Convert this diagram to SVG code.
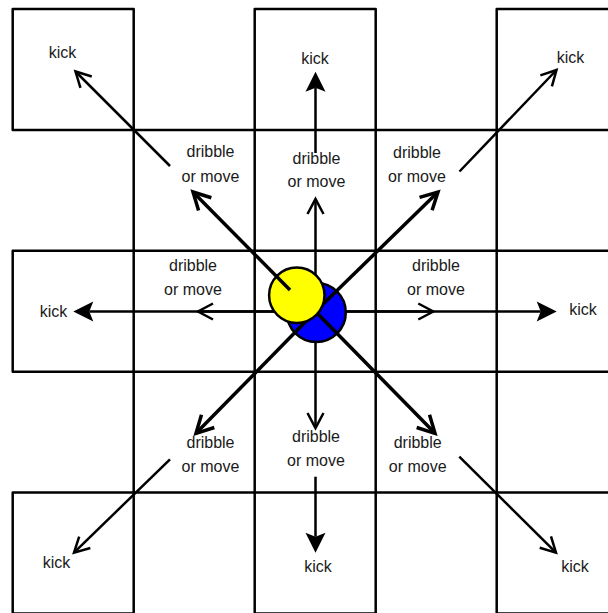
<svg xmlns="http://www.w3.org/2000/svg" width="608" height="613" viewBox="0 0 608 613">
  <style>
    .cell { fill: none; stroke: #000; stroke-width: 2.5; stroke-linejoin: round; }
    .lbl { font-family: "Liberation Sans", Arial, sans-serif; font-size: 16px; fill: #1a1a1a; text-anchor: middle; }
    .kick { fill: none; stroke: #000; stroke-width: 2.5; }
    .drib { fill: none; stroke: #000; stroke-width: 2.5; }
    .drib-diag { fill: none; stroke: #000; stroke-width: 3.5; }
    .ball { stroke: #000; stroke-width: 2.5; }
  </style>
  <defs>
    <!-- filled head: line ends at the notch, tip lies 16px beyond -->
    <marker id="head-filled" markerUnits="userSpaceOnUse" viewBox="-6 -12 24 24" markerWidth="24" markerHeight="24" refX="0" refY="0" orient="auto" overflow="visible">
      <path d="M16,0 L-4,-10 L0,0 L-4,10 Z" fill="#000"/>
    </marker>
    <!-- open chevron, tip at the line end -->
    <marker id="head-open" markerUnits="userSpaceOnUse" viewBox="-20 -12 24 24" markerWidth="24" markerHeight="24" refX="0" refY="0" orient="auto" overflow="visible">
      <path d="M-15,-8 L0,0 L-15,8" fill="none" stroke="#000" stroke-width="2.5"/>
    </marker>
    <marker id="head-open-bold" markerUnits="userSpaceOnUse" viewBox="-22 -14 26 28" markerWidth="26" markerHeight="28" refX="0" refY="0" orient="auto" overflow="visible">
      <path d="M-17,-9 L0,0 L-17,9" fill="none" stroke="#000" stroke-width="3.5"/>
    </marker>
  </defs>

  <rect width="608" height="613" fill="#fff"/>

  <!-- checkerboard field -->
  <g id="field">
    <rect class="cell" x="12.7" y="9" width="121" height="120.9"/>
    <rect class="cell" x="254.7" y="9" width="121" height="120.9"/>
    <rect class="cell" x="496.7" y="9" width="121" height="120.9"/>
    <rect class="cell" x="133.7" y="129.9" width="121" height="120.9"/>
    <rect class="cell" x="375.7" y="129.9" width="121" height="120.9"/>
    <rect class="cell" x="12.7" y="250.8" width="121" height="120.9"/>
    <rect class="cell" x="254.7" y="250.8" width="121" height="120.9"/>
    <rect class="cell" x="496.7" y="250.8" width="121" height="120.9"/>
    <rect class="cell" x="133.7" y="371.7" width="121" height="120.9"/>
    <rect class="cell" x="375.7" y="371.7" width="121" height="120.9"/>
    <rect class="cell" x="12.7" y="492.6" width="121" height="120.9"/>
    <rect class="cell" x="254.7" y="492.6" width="121" height="120.9"/>
    <rect class="cell" x="496.7" y="492.6" width="121" height="120.9"/>
  </g>

  <g id="connectors">
    <!-- straight moves leave from under the defender -->
    <g id="straight-moves">
      <!-- north -->
      <path class="drib" d="M315.5,311.5 L315.5,199" marker-end="url(#head-open)"/>
      <path class="kick" d="M315.5,153 L315.5,87.7" marker-end="url(#head-filled)"/>
      <!-- south -->
      <path class="drib" d="M315.5,311.5 L315.5,428" marker-end="url(#head-open)"/>
      <path class="kick" d="M315.5,476.7 L315.5,536.7" marker-end="url(#head-filled)"/>
      <!-- west -->
      <path class="drib" d="M315.5,311.5 L198,311.5" marker-end="url(#head-open)"/>
      <path class="kick" d="M315.5,311.5 L89.3,311.5" marker-end="url(#head-filled)"/>
      <!-- east -->
      <path class="drib" d="M315.5,311.5 L433.3,311.5" marker-end="url(#head-open)"/>
      <path class="kick" d="M315.5,311.5 L540.7,311.5" marker-end="url(#head-filled)"/>
    </g>
  </g>

  <g id="defender">
    <circle class="ball" cx="316.3" cy="312.6" r="29.5" fill="#0000ff"/>
  </g>

  <g id="diagonal-moves">
    <!-- north-west kick -->
    <path class="kick" d="M170,166 L75.5,71.5" marker-end="url(#head-open)"/>
    <!-- north-east -->
    <path class="drib-diag" d="M315.5,311.5 L438,192" marker-end="url(#head-open-bold)"/>
    <path class="kick" d="M459.5,171.5 L556.5,70" marker-end="url(#head-open)"/>
    <!-- south-west -->
    <path class="drib-diag" d="M315.5,311.5 L196,433.3" marker-end="url(#head-open-bold)"/>
    <path class="kick" d="M170,459.3 L74,552.7" marker-end="url(#head-open)"/>
    <!-- south-east -->
    <path class="drib-diag" d="M315.5,311.5 L435,433.3" marker-end="url(#head-open-bold)"/>
    <path class="kick" d="M459.3,456.7 L556,552.7" marker-end="url(#head-open)"/>
  </g>

  <g id="player">
    <circle class="ball" cx="296.8" cy="295.3" r="27.7" fill="#ffff00"/>
  </g>

  <g id="player-dribble">
    <path class="drib-diag" d="M290,290 L193,192" marker-end="url(#head-open-bold)"/>
  </g>

  <g id="labels">
    <text class="lbl" x="62.5" y="58.3">kick</text>
    <text class="lbl" x="315" y="64">kick</text>
    <text class="lbl" x="570.5" y="63.3">kick</text>
    <text class="lbl" x="53.5" y="316.7">kick</text>
    <text class="lbl" x="583" y="315">kick</text>
    <text class="lbl" x="56.5" y="568.3">kick</text>
    <text class="lbl" x="318" y="571.7">kick</text>
    <text class="lbl" x="575" y="571.7">kick</text>

    <text class="lbl" x="210.5" y="157">dribble</text>
    <text class="lbl" x="210.5" y="181.7">or move</text>
    <text class="lbl" x="316.5" y="163.7">dribble</text>
    <text class="lbl" x="316.5" y="186.7">or move</text>
    <text class="lbl" x="417" y="158">dribble</text>
    <text class="lbl" x="417" y="181.7">or move</text>
    <text class="lbl" x="193" y="271">dribble</text>
    <text class="lbl" x="193" y="295">or move</text>
    <text class="lbl" x="436" y="270.7">dribble</text>
    <text class="lbl" x="436" y="295">or move</text>
    <text class="lbl" x="210.5" y="447.7">dribble</text>
    <text class="lbl" x="210.5" y="471.7">or move</text>
    <text class="lbl" x="316" y="441.7">dribble</text>
    <text class="lbl" x="316" y="465.7">or move</text>
    <text class="lbl" x="417.7" y="447.7">dribble</text>
    <text class="lbl" x="417.7" y="471.7">or move</text>
  </g>
</svg>
